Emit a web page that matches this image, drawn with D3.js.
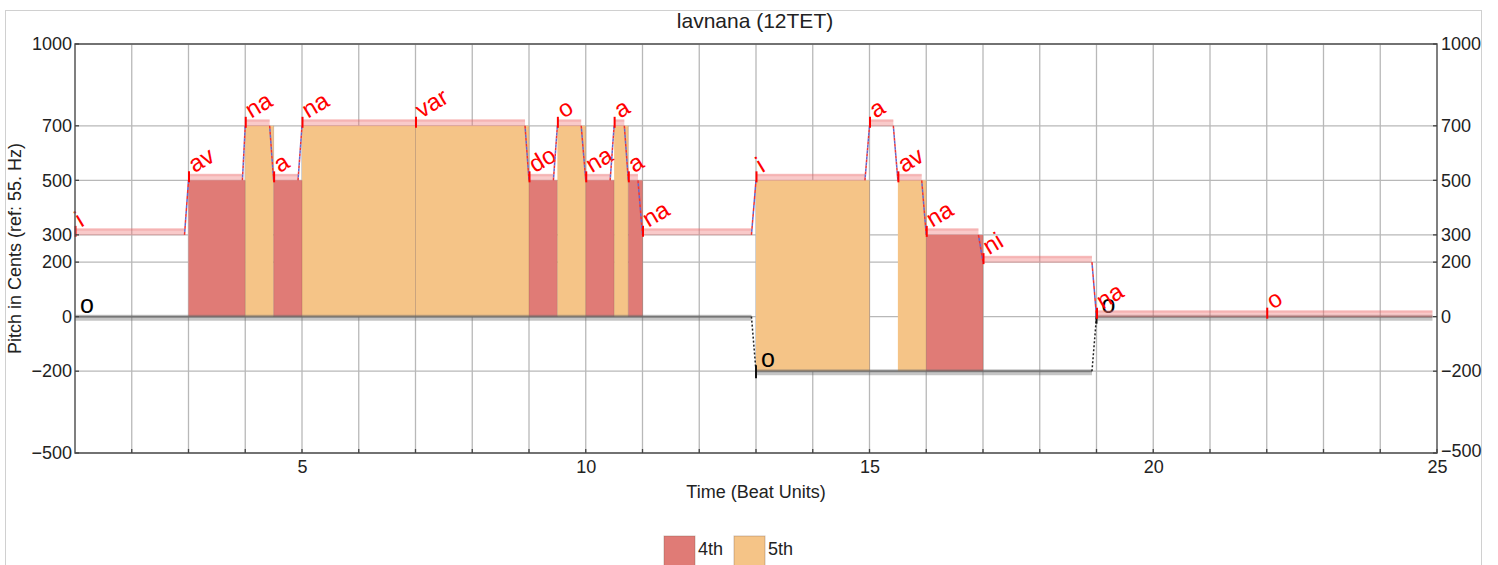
<!DOCTYPE html>
<html>
<head>
<meta charset="utf-8">
<script src="https://cdn.jsdelivr.net/npm/d3@7"></script>
<style>
  html, body { margin: 0; padding: 0; background: #fff; }
  svg text { font-family: "Liberation Sans", Arial, sans-serif; }
</style>
</head>
<body>
<svg id="chart" width="1498" height="565"></svg>
<script>
// ---------- data ----------
const chartTitle = "lavnana (12TET)";
const xLabel = "Time (Beat Units)";
const yLabel = "Pitch in Cents (ref: 55. Hz)";

const syllables   = ["i","av","na","a","na","var","do","o","na","a","a","na","i","a","av","na","ni","na","o"];
const noteStarts  = [1, 3, 4, 4.5, 5, 7, 9, 9.5, 10, 10.5, 10.75, 11, 13, 15, 15.5, 16, 17, 19, 22];
const noteEnds    = [2.93, 3.95, 4.43, 4.93, 7, 8.93, 9.43, 9.92, 10.43, 10.68, 10.92, 12.92, 14.92, 15.42, 15.92, 16.92, 18.92, 22, 24.92];
const notePitches = [300, 500, 700, 500, 700, 700, 500, 700, 500, 700, 500, 300, 500, 700, 500, 300, 200, 0, 0];

const droneLabels  = ["o", "o", "o"];
const droneStarts  = [1, 13, 19];
const droneEnds    = [12.92, 18.92, 24.92];
const dronePitches = [0, -200, 0];

const intervalNames = ["4th", "5th"];
const intervalCents = [500, 700];

const xTickValues = [5, 10, 15, 20, 25];
const xGridValues = [2,3,4,5,6,7,8,9,10,11,12,13,14,15,16,17,18,19,20,21,22,23,24];
const yTickValues = [1000, 700, 500, 300, 200, 0, -200, -500];

// ---------- styles ----------
const intervalColors = ["#E07B76", "#F5C487"];
const plot = { left: 75, right: 1437, top: 44, bottom: 453 };

const svg = d3.select("#chart");
const x = d3.scaleLinear().domain([1, 25]).range([plot.left, plot.right]);
const y = d3.scaleLinear().domain([-500, 1000]).range([plot.bottom, plot.top]);

// outer border
svg.append("rect").attr("x", 5.5).attr("y", 10.5).attr("width", 1476).attr("height", 600)
  .attr("fill", "none").attr("stroke", "#d0d0d0").attr("stroke-width", 1);

// title
svg.append("text").attr("x", 755).attr("y", 28).attr("text-anchor", "middle")
  .attr("font-size", 21).attr("fill", "#222").text(chartTitle);

// grid
const g = svg.append("g");
g.selectAll(".vg").data(xGridValues).enter().append("line")
  .attr("x1", d => x(d)).attr("x2", d => x(d)).attr("y1", plot.top).attr("y2", plot.bottom)
  .attr("stroke", "#b8b8b8").attr("stroke-width", 1.3);
g.selectAll(".hg").data(yTickValues).enter().append("line")
  .attr("x1", plot.left).attr("x2", plot.right).attr("y1", d => y(d)).attr("y2", d => y(d))
  .attr("stroke", "#b8b8b8").attr("stroke-width", 1.3);

// helper: drone pitch at time
function droneAt(t) {
  for (let i = 0; i < droneStarts.length; i++) {
    if (t >= droneStarts[i] - 1e-9 && t < droneEnds[i] + 0.05) return dronePitches[i];
  }
  return 0;
}

// interval fills
const fills = [];
syllables.forEach((s, i) => {
  const t0 = noteStarts[i];
  const t1 = i < syllables.length - 1 ? noteStarts[i + 1] : noteEnds[i];
  const dr = droneAt(t0);
  const k = intervalCents.indexOf(notePitches[i] - dr);
  if (k >= 0) fills.push({ t0, t1, lo: dr, hi: notePitches[i], k });
});
g.selectAll(".fill").data(fills).enter().append("rect")
  .attr("x", d => x(d.t0)).attr("width", d => x(d.t1) - x(d.t0))
  .attr("y", d => y(d.hi)).attr("height", d => y(d.lo) - y(d.hi))
  .attr("fill", d => intervalColors[d.k]);
g.selectAll(".fillEdge").data(fills).enter().append("line")
  .attr("x1", d => x(d.t1)).attr("x2", d => x(d.t1))
  .attr("y1", d => y(d.hi)).attr("y2", d => y(d.lo))
  .attr("stroke", "rgba(120,80,60,0.25)").attr("stroke-width", 1);

// drone lines
droneStarts.forEach((t0, i) => {
  const yy = y(dronePitches[i]);
  g.append("line").attr("x1", x(t0)).attr("x2", x(droneEnds[i])).attr("y1", yy + 1).attr("y2", yy + 1)
    .attr("stroke", "rgba(110,110,110,0.4)").attr("stroke-width", 6);
  g.append("line").attr("x1", x(t0)).attr("x2", x(droneEnds[i])).attr("y1", yy).attr("y2", yy)
    .attr("stroke", "rgba(90,90,90,0.55)").attr("stroke-width", 2);
  if (i > 0) {
    g.append("line").attr("x1", x(droneEnds[i - 1])).attr("x2", x(t0))
      .attr("y1", y(dronePitches[i - 1])).attr("y2", yy)
      .attr("stroke", "#222").attr("stroke-width", 1.5).attr("stroke-dasharray", "2,2");
    g.append("line").attr("x1", x(t0)).attr("x2", x(t0)).attr("y1", yy - 6).attr("y2", yy + 7)
      .attr("stroke", "#111").attr("stroke-width", 2);
  }
  g.append("text").attr("x", x(t0) + 5).attr("y", yy - 4)
    .attr("font-size", 25).attr("fill", "#000").text(droneLabels[i]);
});

// melody bands
syllables.forEach((s, i) => {
  const yy = y(notePitches[i]);
  g.append("line").attr("x1", x(noteStarts[i])).attr("x2", x(noteEnds[i]))
    .attr("y1", yy - 3).attr("y2", yy - 3)
    .attr("stroke", "rgba(238,115,115,0.38)").attr("stroke-width", 7);
  g.append("line").attr("x1", x(noteStarts[i])).attr("x2", x(noteEnds[i]))
    .attr("y1", yy - 5).attr("y2", yy - 5)
    .attr("stroke", "rgba(230,90,90,0.2)").attr("stroke-width", 2);
  if (i > 0 && noteEnds[i - 1] < noteStarts[i]) {
    const y0 = y(notePitches[i - 1]);
    g.append("line").attr("x1", x(noteEnds[i - 1])).attr("x2", x(noteStarts[i]))
      .attr("y1", y0).attr("y2", yy)
      .attr("stroke", "#e33").attr("stroke-width", 1.5).attr("stroke-dasharray", "3,3");
    g.append("line").attr("x1", x(noteEnds[i - 1])).attr("x2", x(noteStarts[i]))
      .attr("y1", y0).attr("y2", yy)
      .attr("stroke", "#66c").attr("stroke-width", 1.5).attr("stroke-dasharray", "3,3").attr("stroke-dashoffset", 3);
  }
  g.append("line").attr("x1", x(noteStarts[i]) + 0.5).attr("x2", x(noteStarts[i]) + 0.5)
    .attr("y1", yy - 9).attr("y2", yy + 2).attr("stroke", "#f00").attr("stroke-width", 2);
  const tx = x(noteStarts[i]) + 6, ty = yy - 7;
  g.append("text").attr("transform", `translate(${tx},${ty}) rotate(-31)`)
    .attr("font-size", 24).attr("fill", "#f00").text(s);
});

// frame
svg.append("rect").attr("x", plot.left).attr("y", plot.top)
  .attr("width", plot.right - plot.left).attr("height", plot.bottom - plot.top)
  .attr("fill", "none").attr("stroke", "#555").attr("stroke-width", 1.5);

// axes
const axL = d3.axisLeft(y).tickValues(yTickValues).tickSize(0).tickPadding(3).tickFormat(d3.format("d"));
const axR = d3.axisRight(y).tickValues(yTickValues).tickSize(0).tickPadding(4).tickFormat(d3.format("d"));
const axB = d3.axisBottom(x).tickValues(xTickValues).tickSize(0).tickPadding(7).tickFormat(d3.format("d"));
function styleAxis(sel) {
  sel.select(".domain").remove();
  sel.selectAll("text").attr("font-size", 18).attr("fill", "#222")
    .attr("font-family", "Liberation Sans, Arial, sans-serif")
    .text(function () { return this.textContent.replace("-", "\u2212"); });
}
svg.append("g").attr("transform", `translate(${plot.left},0)`).call(axL).call(styleAxis);
const rAx = svg.append("g").attr("transform", `translate(${plot.right},0)`).call(axR).call(styleAxis);
// lift the bottom right label slightly so it clears the x label "25"
rAx.selectAll(".tick").filter(d => d === -500).select("text").attr("dy", "0.18em");
svg.append("g").attr("transform", `translate(0,${plot.bottom})`).call(axB).call(styleAxis);

// inward tick marks
svg.selectAll(".xt").data(xGridValues.concat([25])).enter().append("line")
  .attr("x1", d => x(d)).attr("x2", d => x(d)).attr("y1", plot.bottom).attr("y2", plot.bottom - 4)
  .attr("stroke", "#444").attr("stroke-width", 1.3);
svg.selectAll(".ytl").data(yTickValues).enter().append("line")
  .attr("x1", plot.left).attr("x2", plot.left + 4).attr("y1", d => y(d)).attr("y2", d => y(d))
  .attr("stroke", "#444").attr("stroke-width", 1.3);
svg.selectAll(".ytr").data(yTickValues).enter().append("line")
  .attr("x1", plot.right).attr("x2", plot.right - 4).attr("y1", d => y(d)).attr("y2", d => y(d))
  .attr("stroke", "#444").attr("stroke-width", 1.3);

// axis labels
svg.append("text").attr("x", 756).attr("y", 498).attr("text-anchor", "middle")
  .attr("font-size", 18).attr("fill", "#222").text(xLabel);
svg.append("text").attr("transform", `translate(21,${(plot.top + plot.bottom) / 2}) rotate(-90)`)
  .attr("text-anchor", "middle").attr("font-size", 18).attr("fill", "#222").text(yLabel);

// legend
const lg = svg.append("g");
intervalNames.forEach((n, i) => {
  const lx = 664 + i * 70;
  lg.append("rect").attr("x", lx).attr("y", 536).attr("width", 31).attr("height", 31)
    .attr("fill", intervalColors[i]).attr("stroke", "rgba(120,90,70,0.35)").attr("stroke-width", 1);
  lg.append("text").attr("x", lx + 34).attr("y", 555).attr("font-size", 18).attr("fill", "#222").text(n);
});
</script>
</body>
</html>
